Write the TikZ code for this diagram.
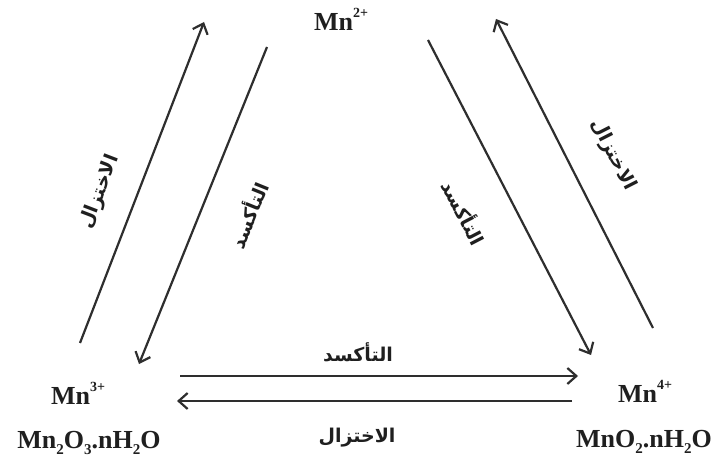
\documentclass[tikz,border=0pt]{standalone}
\usepackage{fontspec}
\setmainfont{Liberation Serif}
\newfontfamily\arabicfont[Script=Arabic]{DejaVu Sans}
\TeXXeTstate=1
\usetikzlibrary{arrows.meta}
\tikzset{
  ion/.style={font=\fontsize{26}{28}\selectfont\bfseries, text=black!88, inner sep=0pt},
  arlbl/.style={font=\arabicfont\bfseries\fontsize{19}{21}\selectfont, text=black!88, inner sep=0pt},
  rx/.style={line width=2.2pt, draw=black!82, -{Straight Barb[length=9pt,width=16pt,line width=2.2pt]}},
}
\newcommand{\supr}[1]{\raisebox{0.5em}{\fontsize{14}{14}\selectfont #1}}
\newcommand{\subr}[1]{\raisebox{-0.22em}{\fontsize{15}{15}\selectfont #1}}
\begin{document}
\begin{tikzpicture}[x=1pt,y=-1pt]
\useasboundingbox[fill=white] (0,0) rectangle (718,465);
% ions
\node[ion] (mn2) at (341,19) {Mn\supr{2+}};
\node[ion] (mn3) at (78,393) {Mn\supr{3+}};
\node[ion] (mn3ox) at (89,443) {Mn\subr{2}O\subr{3}.nH\subr{2}O};
\node[ion] (mn4) at (645,391) {Mn\supr{4+}};
\node[ion] (mn4ox) at (644,442) {MnO\subr{2}.nH\subr{2}O};
% endpoints
\coordinate (lo1) at (80,343);  \coordinate (lo2) at (204,22);
\coordinate (li1) at (267,47);  \coordinate (li2) at (139,364);
\coordinate (ri1) at (428,40);  \coordinate (ri2) at (591,355);
\coordinate (ro1) at (653,328); \coordinate (ro2) at (496,19);
\coordinate (b11) at (180,376); \coordinate (b12) at (578,376);
\coordinate (b21) at (572,401); \coordinate (b22) at (177,401);
% arrows
\draw[rx] (lo1) -- (lo2);
\draw[rx] (li1) -- (li2);
\draw[rx] (ri1) -- (ri2);
\draw[rx] (ro1) -- (ro2);
\draw[rx] (b11) -- (b12);
\draw[rx] (b21) -- (b22);
% labels
\node[arlbl, rotate=69] (l1) at (100,192) {\beginR الاختزال\endR};
\node[arlbl, rotate=68] (l2) at (248,215) {\beginR التأكسد\endR};
\node[arlbl, rotate=-62.6] (l3) at (465,212) {\beginR التأكسد\endR};
\node[arlbl, rotate=-63] (l4) at (613,155) {\beginR الاختزال\endR};
\node[arlbl] (l5) at (358,352) {\beginR التأكسد\endR};
\node[arlbl] (l6) at (357,438) {\beginR الاختزال\endR};
\end{tikzpicture}
\end{document}
